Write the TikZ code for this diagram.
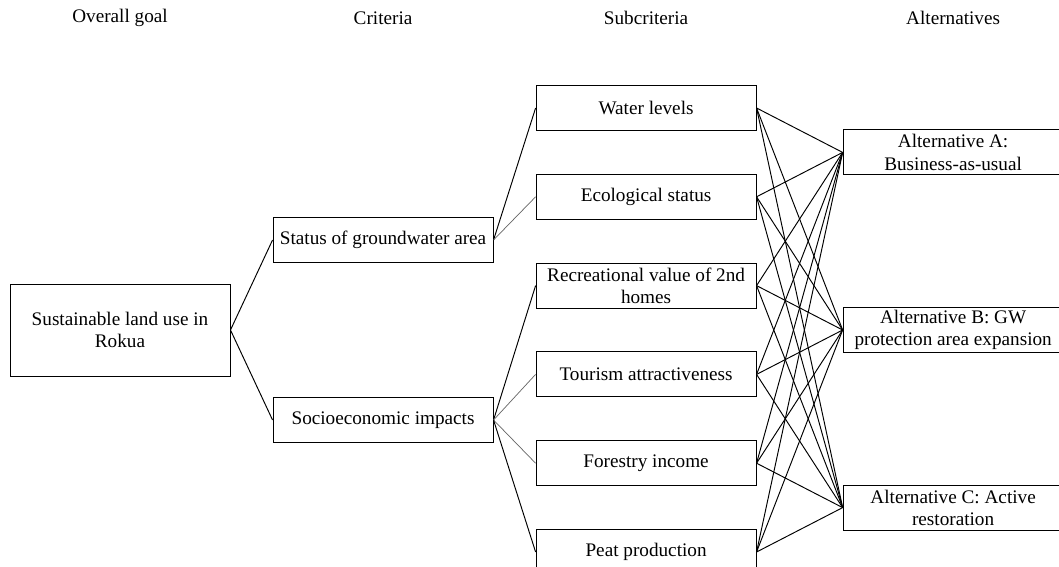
\documentclass[tikz,border=0pt]{standalone}
\usepackage{fontspec}
\setmainfont{Liberation Serif}
\usepackage{tikz}
\usetikzlibrary{positioning}

\begin{document}
\begin{tikzpicture}[node distance=55.5pt and 164.4pt,on grid,
    box/.style={draw,line width=0.6pt,minimum width=137.5pt,minimum height=28.1pt,
      inner sep=1pt,align=center,font=\fontsize{12}{13.8}\selectfont},
    head/.style={font=\fontsize{12}{13.8}\selectfont},
    link/.style={line width=0.6pt},
    faint/.style={line width=0.45pt,black!60}]
	     \clip (0,0) rectangle (661.875pt,-353.75pt);
	     % column headings
	     \node[head] (hgoal) at (75pt,-11.25pt) {Overall goal};
	     \node[head] (hcrit) [right=of hgoal] {Criteria};
	     \node[head] (hsub) [right=of hcrit] {Subcriteria};
	     \node[head] (halt) [right=191.9pt of hsub] {Alternatives};

	     % goal and criteria
	     \node[box, minimum height=57.5pt] (goal) at (75pt,-206.25pt) {Sustainable land use in\\Rokua};
	     \node[box] (status) [above right=56.25pt and 164.4pt of goal] {Status of groundwater area};
	     \node[box] (socio) [below right=56.25pt and 164.4pt of goal] {Socioeconomic impacts};

	     % subcriteria
	     \node[box] (water) [above right=82.5pt and 164.4pt of status] {Water levels};
	     \node[box] (eco) [below=of water] {Ecological status};
	     \node[box] (recr) [below=of eco] {Recreational value of 2nd\\homes};
	     \node[box] (tour) [below=of recr] {Tourism attractiveness};
	     \node[box] (forest) [below=of tour] {Forestry income};
	     \node[box] (peat) [below=of forest] {Peat production};

	     % alternatives
	     \node[box] (altA) [below right=27.75pt and 191.9pt of water] {Alternative A:\\Business-as-usual};
	     \node[box] (altB) [below right=27.75pt and 191.9pt of recr] {Alternative B: GW\\protection area expansion};
	     \node[box] (altC) [below right=27.75pt and 191.9pt of forest] {Alternative C: Active\\restoration};

	     \path
	       (goal.east) edge[link] (status.west)
	       (goal.east) edge[link] (socio.west)
	       (status.east) edge[link] (water.west)
	       (status.east) edge[faint] (eco.west)
	       (socio.east) edge[link] (recr.west)
	       (socio.east) edge[faint] (tour.west)
	       (socio.east) edge[faint] (forest.west)
	       (socio.east) edge[link] (peat.west)
	     ;
	     \foreach \s in {water,eco,recr,tour,forest,peat}
	       \foreach \a in {altA,altB,altC}
	         \draw[link] (\s.east) -- (\a.west);
            \end{tikzpicture}
\end{document}
